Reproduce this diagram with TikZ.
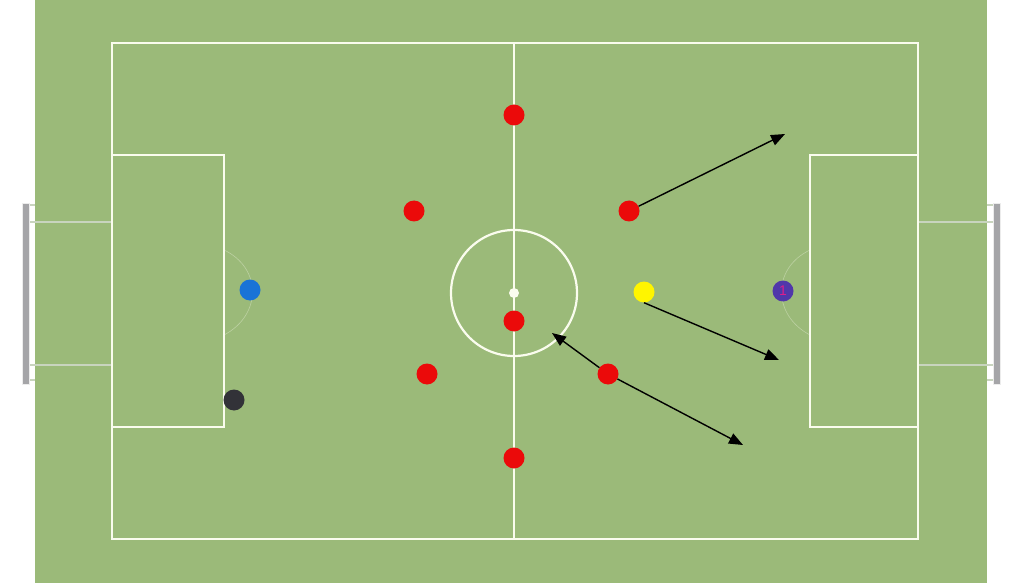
\documentclass[tikz,border=0pt]{standalone}
\usepackage{fontspec}
\setmainfont{Liberation Sans}
\usetikzlibrary{arrows.meta}
\definecolor{pitch}{RGB}{155,186,121}
\definecolor{chalk}{RGB}{250,252,238}
\definecolor{postgray}{RGB}{165,165,168}
\definecolor{netline}{RGB}{200,212,190}
\definecolor{pred}{RGB}{235,10,10}
\definecolor{pblue}{RGB}{25,115,215}
\definecolor{pblack}{RGB}{50,50,56}
\definecolor{pyellow}{RGB}{255,245,0}
\definecolor{ppurple}{RGB}{80,55,170}
\definecolor{pmag}{RGB}{220,30,140}
\tikzset{
  line/.style={draw=chalk, line width=2.2pt},
  player/.style={circle, inner sep=0pt, minimum size=21pt},
  red player/.style={player, fill=pred},
  run/.style={draw=black, line width=1.4pt, -{Triangle[length=14pt,width=11pt]}},
  post/.style={fill=postgray, draw=white!85!gray, line width=0.6pt},
  net/.style={draw=netline, line width=1.2pt},
  faint/.style={draw=chalk, line width=0.6pt, opacity=0.35}
}
\begin{document}
\begin{tikzpicture}[x=1pt, y=-1pt]
\useasboundingbox (0,0) rectangle (1024,585);
\fill[white] (0,0) rectangle (1024,585);
\fill[pitch] (35,0) rectangle (987,583);
% goals
\draw[net] (29,222) -- (112,222) (29,365) -- (112,365);
\draw[net] (29,205) -- (35,205) (29,380) -- (35,380);
\draw[post] (22,203) rectangle (29,384);
\draw[net] (918,222) -- (993,222) (918,365) -- (993,365);
\draw[net] (987,205) -- (993,205) (987,380) -- (993,380);
\draw[post] (993,203) rectangle (1000,384);
% field lines
\draw[line] (112,43) rectangle (918,539);
\draw[line] (514,43) -- (514,539);
\draw[line] (112,155) rectangle (224,427);
\draw[line] (810,155) rectangle (918,427);
\draw[line] (514,293) circle[radius=63pt];
\fill[chalk] (514,293) circle[radius=5pt];
% faint penalty arcs
\draw[faint] (224,250) .. controls (262,268) and (262,315) .. (224,335);
\draw[faint] (810,250) .. controls (772,268) and (772,315) .. (810,335);
% players
\node[red player] (r1) at (514,115) {};
\node[red player] (r2) at (414,211) {};
\node[red player] (r3) at (629,211) {};
\node[red player] (r4) at (514,321) {};
\node[red player] (r5) at (427,374) {};
\node[red player] (r6) at (608,374) {};
\node[red player] (r7) at (514,458) {};
\node[player, fill=pblue] (gk) at (250,290) {};
\node[player, fill=pblack] (ball) at (234,400) {};
\node[player, fill=pyellow] (y) at (644,292) {};
\node[player, fill=ppurple, font=\fontsize{14pt}{14pt}\selectfont, text=pmag] (p1) at (783,291) {1};
% runs
\coordinate (t1) at (785,134);
\coordinate (t2) at (779,360);
\coordinate (t3) at (552,333);
\coordinate (t4) at (743,445);
\draw[run] (r3) -- (t1);
\draw[run] (y.south) -- (t2);
\draw[run] (r6) -- (t3);
\draw[run] (r6) -- (t4);
\end{tikzpicture}
\end{document}
